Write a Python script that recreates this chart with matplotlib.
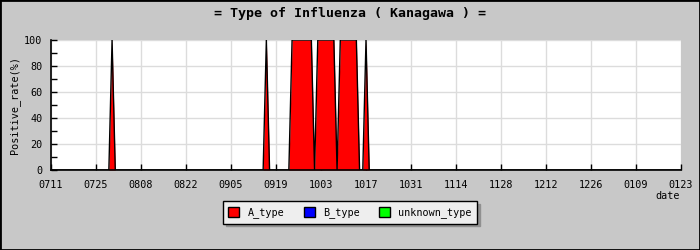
import numpy as np
import matplotlib
matplotlib.use('Agg')
from matplotlib import pyplot as plt
from matplotlib.patches import Patch, Rectangle

# days counted from 07/11, one value per day
tick_days = [0, 14, 28, 42, 56, 70, 84, 98, 112, 126, 140, 154, 168, 182, 196]
tick_labels = ['0711', '0725', '0808', '0822', '0905', '0919', '1003', '1017',
               '1031', '1114', '1128', '1212', '1226', '0109', '0123']
a_days = [19, 67, 75, 76, 77, 78, 79, 80, 81, 83, 84, 85, 86, 87, 88,
          90, 91, 92, 93, 94, 95, 98]
a_vals = [100, 100, 100, 100, 100, 100, 100, 100, 100, 100, 100, 100, 100, 100, 100,
          100, 100, 100, 100, 100, 100, 100]
n_days = 197

days = np.arange(n_days)
a_type = np.zeros(n_days)
a_type[a_days] = a_vals
b_type = np.zeros(n_days)
unknown_type = np.zeros(n_days)

plt.rcParams['font.family'] = 'DejaVu Sans Mono'
bg = '#c8c8c8'
fig = plt.figure(figsize=(7, 2.5), dpi=100, facecolor=bg)
ax = fig.add_axes([51/700, 1-170/250, 630/700, 130/250])
ax.set_facecolor('white')

ax.fill_between(days, 0, a_type, color='red', lw=0, antialiased=False, zorder=2)
ax.fill_between(days, a_type, a_type+b_type, color='blue', lw=0, zorder=2)
ax.fill_between(days, a_type+b_type, a_type+b_type+unknown_type, color='#00ff00', lw=0, zorder=2)
ax.plot(days, a_type, color='black', lw=1, zorder=3)

ax.set_xlim(0, 196)
ax.set_ylim(0, 100)
ax.set_xticks(tick_days)
ax.set_xticklabels(tick_labels, fontsize=7.3)
ax.set_yticks(range(0, 101, 20))
ax.set_yticks(range(0, 101, 10), minor=True)
ax.tick_params(axis='both', which='both', direction='in', length=4, width=1, labelsize=7.3)
ax.tick_params(axis='x', pad=7)
ax.tick_params(axis='y', pad=6)
ax.grid(True, which='major', color='#dcdcdc', lw=1, zorder=0)
for s in ['top', 'right']:
    ax.spines[s].set_visible(False)
ax.spines['left'].set_linewidth(1.2)
ax.spines['bottom'].set_linewidth(1.2)
ax.set_ylabel('Positive_rate(%)', fontsize=7.3)
ax.yaxis.set_label_coords((20-51)/630, 0.5)
fig.text(668/700, 1-196/250, 'date', fontsize=7.3, ha='center', va='center')

fig.text(0.5, 1-13/250, '= Type of Influenza ( Kanagawa ) =', fontsize=9.5,
         fontweight='bold', ha='center', va='center')

handles = [Patch(facecolor='red', edgecolor='black', label='A_type'),
           Patch(facecolor='blue', edgecolor='black', label='B_type'),
           Patch(facecolor='#00ff00', edgecolor='black', label='unknown_type')]
leg = fig.legend(handles=handles, ncol=3, loc='center', bbox_to_anchor=(350/700, 1-212.5/250),
                 fontsize=7.3, fancybox=False, shadow={'color': '#909090', 'alpha': 1},
                 edgecolor='black', facecolor='#eeeeee', framealpha=1,
                 handlelength=1.1, handleheight=1.1, columnspacing=1.9, borderpad=0.55)
leg.get_frame().set_linewidth(1)

fig.patches.append(Rectangle((0, 0), 1, 1, transform=fig.transFigure, fill=False,
                             edgecolor='black', lw=2))
fig.savefig('out.png', dpi=100, facecolor=bg)
